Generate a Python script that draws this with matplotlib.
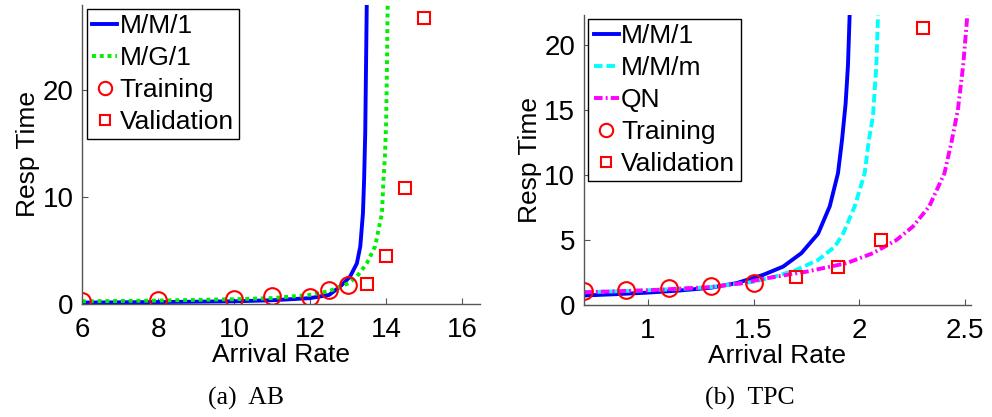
import matplotlib.pyplot as plt

plt.rcParams['font.family'] = ['Liberation Sans', 'DejaVu Sans']

# (a) AB
ab_mm1_x = [6, 8, 10, 11, 12, 12.5, 12.79, 13.05, 13.23, 13.32, 13.39, 13.42, 13.45, 13.47, 13.49]
ab_mm1_y = [0.13, 0.18, 0.25, 0.35, 0.55, 0.85, 1.63, 2.56, 3.8, 5.4, 8.5, 11.6, 16, 22, 28]
ab_mg1_x = [6, 8, 10, 11, 12, 12.5, 13.01, 13.23, 13.49, 13.71, 13.89, 13.93, 13.97, 14.0, 14.02, 14.04]
ab_mg1_y = [0.25, 0.32, 0.45, 0.55, 0.85, 1.2, 1.94, 2.56, 3.8, 5.4, 8.5, 11.6, 14, 17, 22, 28]
ab_train_x = [6, 8, 10, 11, 12, 12.5, 13]
ab_train_y = [0.28, 0.35, 0.44, 0.75, 0.63, 1.3, 1.75]
ab_valid_x = [13.5, 14, 14.5, 15]
ab_valid_y = [1.9, 4.45, 10.9, 26.8]

# (b) TPC
tpc_mm1_x = [0.7, 0.85, 1.0, 1.15, 1.3, 1.42, 1.545, 1.64, 1.726, 1.805, 1.86, 1.899, 1.918, 1.935, 1.946, 1.954]
tpc_mm1_y = [0.75, 0.85, 0.97, 1.13, 1.35, 1.7, 2.33, 2.97, 4.0, 5.5, 7.6, 10.15, 12.7, 15.5, 18.4, 22.3]
tpc_mmm_x = [0.7, 0.85, 1.0, 1.15, 1.3, 1.5, 1.6, 1.70, 1.805, 1.884, 1.923, 1.978, 2.025, 2.045, 2.064, 2.08, 2.088]
tpc_mmm_y = [1.0, 1.07, 1.15, 1.25, 1.4, 1.8, 2.2, 2.7, 3.48, 4.5, 5.5, 7.6, 10.15, 12.7, 14.5, 18.4, 22.3]
tpc_qn_x = [0.7, 1.0, 1.3, 1.45, 1.56, 1.75, 1.939, 2.064, 2.174, 2.253, 2.33, 2.402, 2.437, 2.465, 2.49, 2.51]
tpc_qn_y = [1.0, 1.15, 1.4, 1.7, 2.07, 2.58, 3.23, 4.0, 5.0, 6.05, 7.6, 10.15, 12.7, 15, 18.4, 22.3]
tpc_train_x = [0.7, 0.9, 1.1, 1.3, 1.5]
tpc_train_y = [1.1, 1.18, 1.35, 1.5, 1.71]
tpc_valid_x = [1.7, 1.9, 2.1, 2.3]
tpc_valid_y = [2.18, 2.92, 5.05, 21.3]

fig = plt.figure(figsize=(9.92, 4.17), dpi=100)
ax1 = fig.add_axes([0.0827, 0.271, 0.4012, 0.717])
ax2 = fig.add_axes([0.5884, 0.268, 0.3904, 0.696])

lw = 2.8
circ = dict(marker='o', ms=12, mfc='none', mec='red', mew=1.5, ls='none')
sq = dict(marker='s', ms=9, mfc='none', mec='red', mew=1.5, ls='none')

ax1.plot(ab_mm1_x, ab_mm1_y, color='blue', lw=lw, label='M/M/1')
ax1.plot(ab_mg1_x, ab_mg1_y, color='#00ee00', lw=lw, ls=(0, (1, 1)), label='M/G/1')
ax1.plot(ab_train_x, ab_train_y, label='Training', **circ)
ax1.plot(ab_valid_x, ab_valid_y, label='Validation', **sq)
ax1.set_xlim(6, 16.47)
ax1.set_ylim(0, 28)
ax1.set_xticks([6, 8, 10, 12, 14, 16])
ax1.set_yticks([0, 10, 20])

ax2.plot(tpc_mm1_x, tpc_mm1_y, color='blue', lw=lw, label='M/M/1')
ax2.plot(tpc_mmm_x, tpc_mmm_y, color='cyan', lw=lw, ls=(0, (2.2, 1)), label='M/M/m')
ax2.plot(tpc_qn_x, tpc_qn_y, color='magenta', lw=lw, ls=(0, (2.2, 0.8, 0.5, 0.8)), label='QN')
ax2.plot(tpc_train_x, tpc_train_y, label='Training', **circ)
ax2.plot(tpc_valid_x, tpc_valid_y, label='Validation', **sq)
ax2.set_xlim(0.698, 2.527)
ax2.set_ylim(0, 22.3)
ax2.set_xticks([1, 1.5, 2, 2.5])
ax2.set_xticklabels(['1', '1.5', '2', '2.5'])
ax2.set_yticks([0, 5, 10, 15, 20])

anchors = [(0.0874, 0.978), (0.593, 0.954)]
for ax, anc in zip([ax1, ax2], anchors):
    for s in ['top', 'right']:
        ax.spines[s].set_visible(False)
    for s in ['left', 'bottom']:
        ax.spines[s].set_color('#555555')
        ax.spines[s].set_linewidth(1.0)
    ax.tick_params(direction='in', length=4, color='#555555', labelsize=20, pad=6)
    ax.tick_params(axis='x', pad=9.5)
    ax.set_xlabel('Arrival Rate', fontsize=19, labelpad=0)
    ax.set_ylabel('Resp Time', fontsize=19, labelpad=2)
    leg = ax.legend(loc='upper left', bbox_to_anchor=anc, bbox_transform=fig.transFigure,
                    fontsize=19, frameon=True, fancybox=False, edgecolor='black',
                    framealpha=1, borderaxespad=0, borderpad=0.2, labelspacing=0.3,
                    handlelength=0.95, handletextpad=0.1, markerscale=0.8)
    leg.get_frame().set_linewidth(1.0)

fig.text(0.248, 0.045, '(a)  AB', fontsize=18.5, family='Liberation Serif', ha='center', va='center')
fig.text(0.756, 0.045, '(b)  TPC', fontsize=18.5, family='Liberation Serif', ha='center', va='center')

fig.savefig('out.png', dpi=100)
